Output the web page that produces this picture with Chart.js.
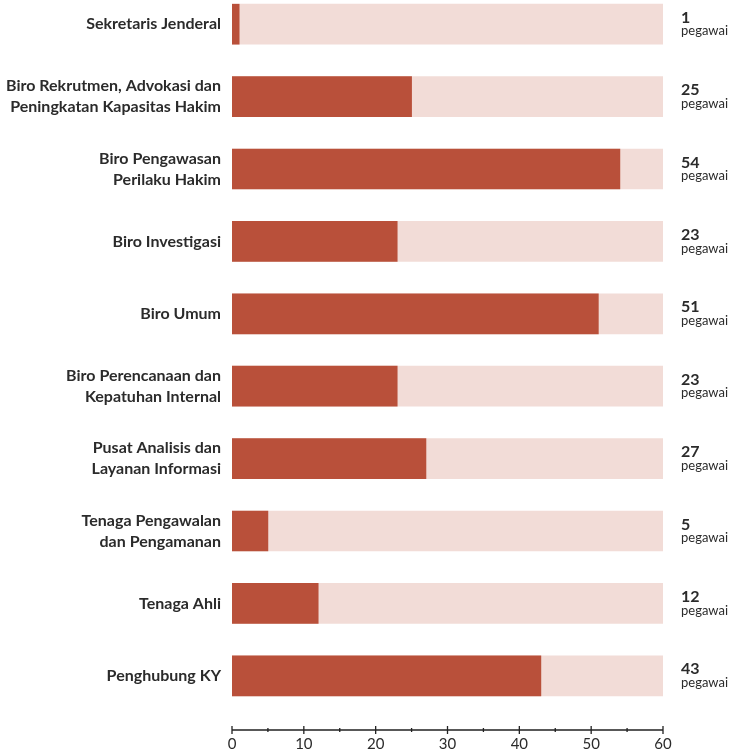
<!DOCTYPE html>
<html>
<head>
<meta charset="utf-8">
<script src="https://cdn.jsdelivr.net/npm/chart.js@4/dist/chart.umd.min.js"></script>
<style>
  html, body { margin: 0; padding: 0; background: #fff; overflow: hidden; }
  #wrap { position: absolute; left: 0; top: -12px; width: 731px; height: 765px; }
</style>
</head>
<body>
<div id="wrap"><canvas id="c"></canvas></div>
<script>
const units = [
    ['Sekretaris Jenderal'],
    ['Biro Rekrutmen, Advokasi dan', 'Peningkatan Kapasitas Hakim'],
    ['Biro Pengawasan', 'Perilaku Hakim'],
    ['Biro Investigasi'],
    ['Biro Umum'],
    ['Biro Perencanaan dan', 'Kepatuhan Internal'],
    ['Pusat Analisis dan', 'Layanan Informasi'],
    ['Tenaga Pengawalan', 'dan Pengamanan'],
    ['Tenaga Ahli'],
    ['Penghubung KY']
];
const pegawai = [1, 25, 54, 23, 51, 23, 27, 5, 12, 43];
const scaleMax = 60;
const track = units.map(() => scaleMax);
const unitWord = 'pegawai';

const dark = '#b9503a';
const light = '#f2dcd7';
const ink = '#2b2b2b';
const font = "Lato, 'Open Sans', sans-serif";

// axis line with major/minor ticks, sits a bit below the bars
const axisLine = {
    id: 'axisLine',
    afterDraw(chart) {
        const { ctx, chartArea, scales: { x } } = chart;
        const y = chartArea.bottom + 18;
        ctx.save();
        ctx.strokeStyle = '#222';
        ctx.lineWidth = 1.3;
        ctx.beginPath();
        ctx.moveTo(x.getPixelForValue(0), y);
        ctx.lineTo(x.getPixelForValue(scaleMax), y);
        for (let v = 0; v <= scaleMax; v += 5) {
            const px = x.getPixelForValue(v);
            const h = v % 10 === 0 ? 4 : 2;
            ctx.moveTo(px, y - h);
            ctx.lineTo(px, y + h);
        }
        ctx.stroke();
        ctx.restore();
    }
};

// "N / pegawai" to the right of every track
const countLabels = {
    id: 'countLabels',
    afterDatasetsDraw(chart) {
        const { ctx, scales: { x, y } } = chart;
        const left = x.getPixelForValue(scaleMax) + 18;
        ctx.save();
        ctx.fillStyle = ink;
        ctx.textAlign = 'left';
        ctx.textBaseline = 'middle';
        pegawai.forEach((v, i) => {
            const cy = y.getPixelForValue(i);
            ctx.font = 'bold 16px ' + font;
            ctx.fillText(String(v), left, cy - 6.5);
            ctx.font = '13px ' + font;
            ctx.fillText(unitWord, left, cy + 7);
        });
        ctx.restore();
    }
};

new Chart(document.getElementById('c'), {
    type: 'bar',
    data: {
        labels: units,
        datasets: [
            { data: pegawai, backgroundColor: dark, barThickness: 40, grouped: false },
            { data: track, backgroundColor: light, barThickness: 40, grouped: false }
        ]
    },
    options: {
        indexAxis: 'y',
        responsive: true,
        maintainAspectRatio: false,
        animation: false,
        layout: { autoPadding: false, padding: { left: 0, right: 68, top: 0, bottom: 0 } },
        plugins: { legend: { display: false }, tooltip: { enabled: false } },
        scales: {
            x: {
                min: 0,
                max: scaleMax,
                grid: { display: false },
                border: { display: false },
                ticks: { stepSize: 10, padding: 15, color: ink, font: { family: font, size: 15 } },
                afterFit: s => { s.height = 41; s.paddingLeft = 0; s.paddingRight = 0; }
            },
            y: {
                grid: { display: false, drawTicks: false },
                border: { display: false },
                ticks: { padding: 11, color: ink, font: { family: font, size: 16, weight: 'bold', lineHeight: 1.3 } },
                afterFit: s => { s.width = 232; s.paddingTop = 0; s.paddingBottom = 0; }
            }
        }
    },
    plugins: [axisLine, countLabels]
});
</script>
</body>
</html>
